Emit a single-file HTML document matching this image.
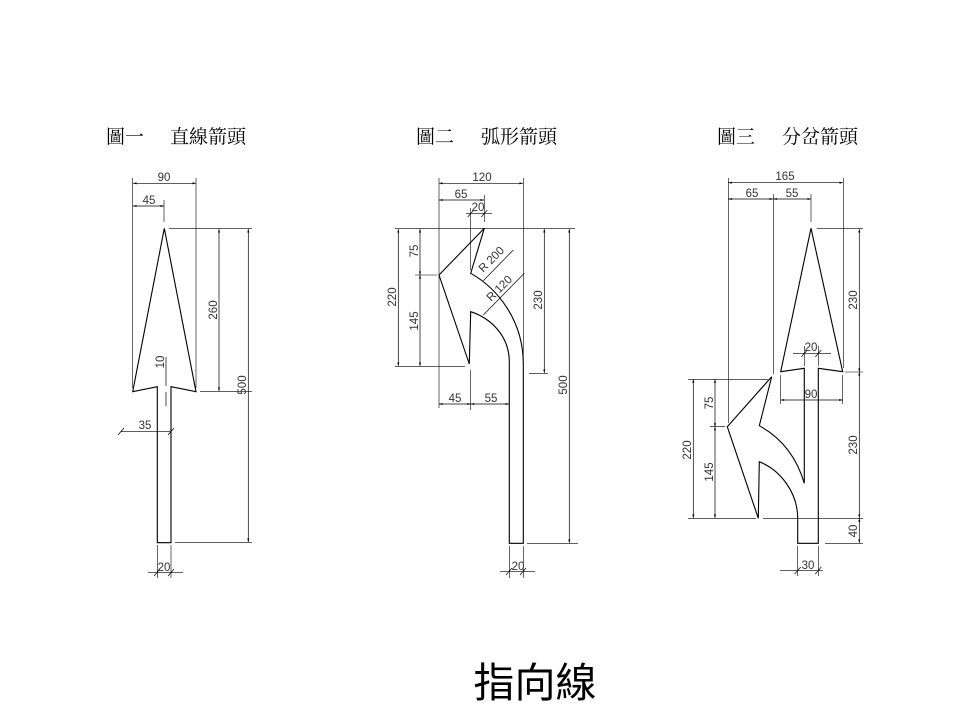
<!DOCTYPE html>
<html><head><meta charset="utf-8"><style>
html,body{margin:0;padding:0;background:#fff;}
svg{display:block;}
.t{font-family:"Liberation Serif","Noto Serif CJK SC","Noto Sans CJK TC",serif;font-size:19px;fill:#000;}
.d{font-family:"Liberation Sans","DejaVu Sans",sans-serif;font-size:11.5px;fill:#333;}
</style></head><body>
<svg width="960" height="720" viewBox="0 0 960 720" xmlns="http://www.w3.org/2000/svg">
<defs>
<marker id="a" viewBox="0 0 10 10" refX="10" refY="5" markerWidth="7" markerHeight="5" orient="auto-start-reverse"><path d="M0,2 L10,5 L0,8 Z" fill="#000"/></marker>
</defs>
<!-- titles -->
<text class="t" x="106" y="143">圖一</text><text class="t" x="170" y="143">直線箭頭</text>
<text class="t" x="416" y="143">圖二</text><text class="t" x="481" y="143">弧形箭頭</text>
<text class="t" x="717" y="143">圖三</text><text class="t" x="782" y="143">分岔箭頭</text>
<text x="535" y="697" text-anchor="middle" style="font-family:'Liberation Sans','Noto Sans CJK TC',sans-serif;font-size:41px;fill:#000">指向線</text>

<g fill="none" stroke="#000" stroke-width="1.1">
<path d="M164.3,228.3 L132.7,391.7 L157.3,386.7 L157.3,542.7 L171,542.7 L171,386.7 L196,391.7 Z"/>
<path d="M484.3,228.3 L439,275 L469.3,364 L470.7,311.7 C490,318 509.3,335 509.3,362 L509.3,543.3 L523.3,543.3 L523.3,364 C523.3,320 497,288 470.7,273.3 Z"/>
<path d="M771.7,376.7 L727.3,426.7 L758.3,518.3 L759.3,461.7 C780,470 797.7,492 797.7,518.3 L797.7,543.3 L818.3,543.3 L818.3,368.3 L842.7,371.7 L811,228.3 L780.7,371.7 L804.3,368.3 L804.3,483.3 C796,455 780,437 759.3,425.7 Z"/>
</g>

<g stroke="#000" stroke-width="0.6" fill="none">
<path d="M132.7,178V388 M196,178V388 M164,200V222 M169,228.3H252 M200,391.7H252 M175,542.7H252 M157.3,545V578 M171,545V578"/>
<path d="M439,178V408 M523.3,178V360 M484.3,195V222 M470.7,208V270 M395,228.3H575 M395,366.7H465 M415,275H437 M529,373.3H548 M527,543.3H578 M470.7,370V410 M509.3,546V578 M523.3,546V578"/>
<path d="M728.3,178V423 M843.3,178V368 M773.3,194V374 M811,194V222 M816.7,228.3H863 M845,372H863 M688,518.3H756 M763,518.3H863 M825,543.3H863 M804.3,346V366 M818.3,346V366 M780.7,375V404 M842.7,375V404 M688,379.3H768 M710,426.7H725 M797.7,546V576 M818.3,546V576"/>
</g>

<g stroke="#000" stroke-width="0.7" fill="none" marker-start="url(#a)" marker-end="url(#a)">
<path d="M133,183.3H196"/><path d="M133,206H164"/>
<path d="M219,229V391"/><path d="M248.3,229V542"/>
<path d="M439,183.3H523"/><path d="M439,200H484"/>
<path d="M398.3,229V366"/><path d="M420,229V275"/><path d="M420,275V366"/>
<path d="M544.3,229V373"/><path d="M569.3,229V543"/>
<path d="M439,404H470.7"/><path d="M470.7,404H509"/>
<path d="M728.3,182.7H843"/><path d="M728.3,199H773"/><path d="M773.3,199H811"/>
<path d="M859.3,229V372"/><path d="M859.3,372V518"/><path d="M859.3,518.3V543"/>
<path d="M693.3,379.3V518"/><path d="M715,379.3V426.7"/><path d="M715,426.7V518"/>
<path d="M780.7,400H842.7"/>
</g>
<g stroke="#000" stroke-width="0.7" fill="none">
<path d="M121,431.7H171 M118,435L124,428 M168,435L174,428"/>
<path d="M148,572.7H183 M154,576L160,569 M168,576L174,569"/>
<path d="M466,213.3H492 M467.7,217L473.7,210 M481.3,217L487.3,210"/>
<path d="M500,571.7H535 M506,575L512,568 M520,575L526,568"/>
<path d="M793,353.3H831 M801.3,357L807.3,350 M815.3,357L821.3,350"/>
<path d="M780,570.7H823 M794.7,574L800.7,567 M815.3,574L821.3,567"/>
<path d="M166,357V386 M166,392V406"/>
<path d="M483.3,280.7L513.3,250 M483.3,315L524.3,273.3"/>
</g>

<g class="d" text-anchor="middle">
<text x="164" y="181">90</text><text x="149" y="204">45</text>
<text x="145" y="429">35</text><text x="164" y="571">20</text>
<text transform="translate(217,310) rotate(-90)">260</text>
<text transform="translate(246,385) rotate(-90)">500</text>
<text transform="translate(164,362) rotate(-90)">10</text>

<text x="482" y="181">120</text><text x="461" y="198">65</text><text x="478" y="211">20</text>
<text x="455" y="402">45</text><text x="491" y="402">55</text><text x="518" y="570">20</text>
<text transform="translate(396,297) rotate(-90)">220</text>
<text transform="translate(418,251) rotate(-90)">75</text>
<text transform="translate(418,321) rotate(-90)">145</text>
<text transform="translate(542,300) rotate(-90)">230</text>
<text transform="translate(567,385) rotate(-90)">500</text>
<text transform="translate(494,262) rotate(-45)">R 200</text>
<text transform="translate(502,291) rotate(-45)">R 120</text>

<text x="785" y="180">165</text><text x="752" y="197">65</text><text x="792" y="197">55</text>
<text x="811" y="351">20</text><text x="811" y="398">90</text><text x="808" y="569">30</text>
<text transform="translate(857,300) rotate(-90)">230</text>
<text transform="translate(857,445) rotate(-90)">230</text>
<text transform="translate(857,531) rotate(-90)">40</text>
<text transform="translate(691,450) rotate(-90)">220</text>
<text transform="translate(713,403) rotate(-90)">75</text>
<text transform="translate(713,472) rotate(-90)">145</text>
</g>
</svg>
</body></html>
